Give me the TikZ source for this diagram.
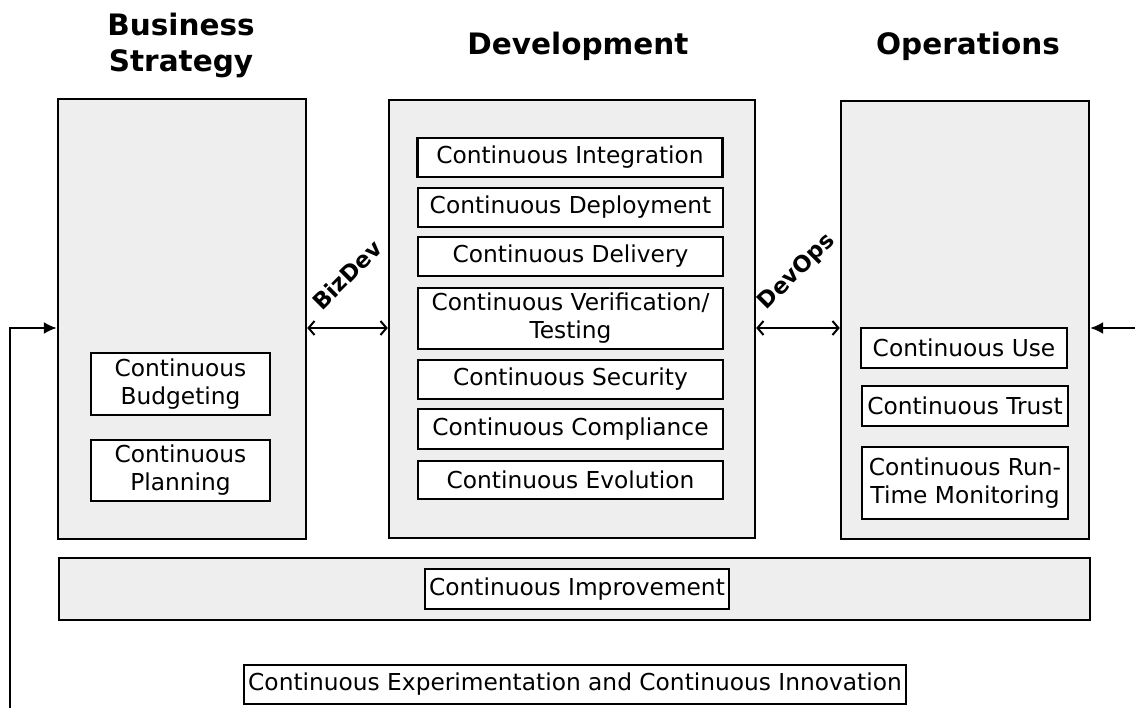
\documentclass[tikz,border=0pt]{standalone}
\usepackage{fontspec}
\setmainfont{DejaVu Sans}
\usetikzlibrary{arrows.meta}
\definecolor{panelgray}{HTML}{EEEEEE}
\tikzset{
  panel/.style={draw=black, line width=2.4pt, fill=panelgray, rectangle, inner sep=0pt},
  item/.style={draw=black, line width=2.2pt, fill=white, rectangle, inner sep=0pt, align=center,
     font=\fontsize{23.3}{28}\selectfont},
  title/.style={align=center, font=\fontsize{29.5}{36}\selectfont\bfseries},
  rel/.style={font=\fontsize{22.5}{26}\selectfont\bfseries, rotate=45},
  link/.style={line width=2pt, {Straight Barb[length=6pt,width=14pt,line width=2pt]}-{Straight Barb[length=6pt,width=14pt,line width=2pt]}},
  feed/.style={line width=2pt, -{Latex[length=13pt,width=12pt]}}
}
\begin{document}
\begin{tikzpicture}[x=1pt,y=-1pt]
\useasboundingbox (0,0) rectangle (1135,708);

% titles
\node[title] (tbs) at (181,45) {Business\\Strategy};
\node[title] (tdev) at (578,46) {Development};
\node[title] (tops) at (968,46) {Operations};

% panels
\node[panel, minimum width=248pt, minimum height=440pt] (bs) at (182,319) {};
\node[panel, minimum width=366pt, minimum height=438pt] (dev) at (572,319) {};
\node[panel, minimum width=248pt, minimum height=438pt] (ops) at (965,320) {};
\node[panel, minimum width=1031pt, minimum height=62pt] (imp) at (574.5,589) {};

% business items
\node[item, minimum width=179pt, minimum height=62pt] (bud) at (180.5,384) {Continuous\\Budgeting};
\node[item, minimum width=179pt, minimum height=61pt] (plan) at (180.5,470.5) {Continuous\\Planning};

% development items
\node[item, minimum width=305pt, minimum height=39pt] (ci) at (570,157.5) {Continuous Integration};
\node[item, minimum width=305pt, minimum height=39pt] (cdep) at (570.5,207.5) {Continuous Deployment};
\node[item, minimum width=305pt, minimum height=39pt] (cdel) at (570.5,256.5) {Continuous Delivery};
\node[item, minimum width=305pt, minimum height=61pt] (cver) at (570.5,318.5) {Continuous Verification/\\Testing};
\node[item, minimum width=305pt, minimum height=39pt] (csec) at (570.5,379.5) {Continuous Security};
\node[item, minimum width=305pt, minimum height=40pt] (ccomp) at (570.5,429) {Continuous Compliance};
\node[item, minimum width=305pt, minimum height=38pt] (cevo) at (570.5,480) {Continuous Evolution};

% operations items
\node[item, minimum width=206pt, minimum height=40pt] (cuse) at (964,348) {Continuous Use};
\node[item, minimum width=206pt, minimum height=40pt] (ctrust) at (965,406) {Continuous Trust};
\node[item, minimum width=206pt, minimum height=72pt] (crun) at (965,483) {Continuous Run-\\Time Monitoring};

% improvement and experimentation
\node[item, minimum width=304pt, minimum height=40pt] (cimp) at (577,589) {Continuous Improvement};
\node[item, minimum width=662pt, minimum height=39pt] (cexp) at (575,684.5) {Continuous Experimentation and Continuous Innovation};

% connectors
\coordinate (lvl) at (0,328);
\coordinate (lbot) at (10,708);
\coordinate (rend) at (1135,328);
\draw[link] (bs.east |- lvl) -- (dev.west |- lvl);
\draw[link] (dev.east |- lvl) -- (ops.west |- lvl);
\draw[feed] (lbot) -- (lbot |- lvl) -- (bs.west |- lvl);
\draw[feed] (rend) -- (ops.east |- lvl);

% relation labels
\node[rel] (lbiz) at (347,275) {BizDev};
\node[rel] (lops) at (797,272) {DevOps};
\end{tikzpicture}
\end{document}
